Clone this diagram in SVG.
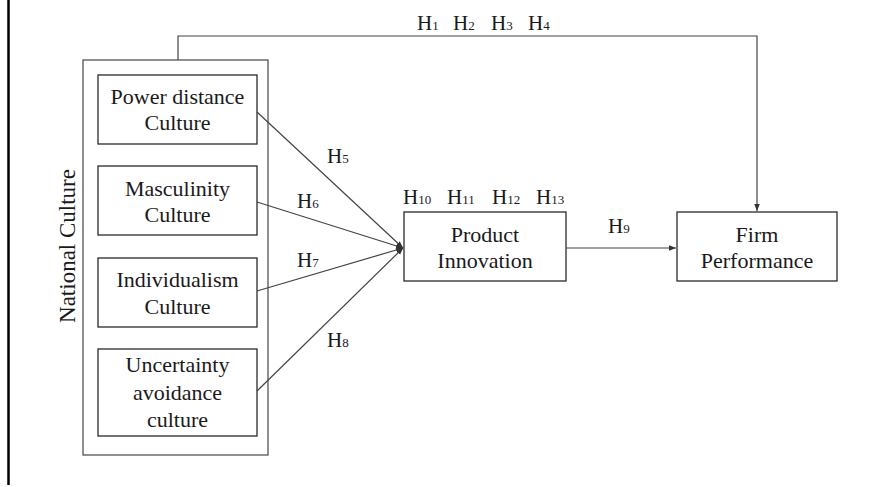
<svg xmlns="http://www.w3.org/2000/svg" width="880" height="487" viewBox="0 0 880 487">
<style>
text{font-family:"Liberation Serif","Times New Roman",serif;fill:#1a1a1a;}
.t{font-size:22px;text-anchor:middle;}
.nc{font-size:23px;text-anchor:middle;}
.h{font-size:21px;}
.s{font-size:13px;}
.box{fill:#fff;stroke:#2a2a2a;stroke-width:1.3;}
.outer{fill:none;stroke:#555;stroke-width:1.3;}
.con{fill:none;stroke:#444;stroke-width:1.2;}
</style>
<defs>
<marker id="arr" viewBox="0 0 10 10" refX="10" refY="5" markerWidth="7" markerHeight="7" markerUnits="userSpaceOnUse" orient="auto">
<path d="M0,1 L10,5 L0,9 Z" fill="#333"/>
</marker>
</defs>
<rect x="0" y="0" width="880" height="487" fill="#fff"/>
<line x1="8.5" y1="0" x2="8.5" y2="485" stroke="#000" stroke-width="2.5"/>

<g id="national-culture">
<rect class="outer" x="83" y="60" width="185" height="395"/>
<text class="nc" transform="translate(75,246) rotate(-90)">National Culture</text>
</g>
<g id="power-distance">
<rect class="box" x="98" y="75" width="159" height="69"/>
<text class="t" x="177.5" y="104">Power distance</text>
<text class="t" x="177.5" y="130">Culture</text>
</g>
<g id="masculinity">
<rect class="box" x="98" y="166" width="159" height="69"/>
<text class="t" x="177.5" y="196">Masculinity</text>
<text class="t" x="177.5" y="222">Culture</text>
</g>
<g id="individualism">
<rect class="box" x="98" y="258" width="159" height="69"/>
<text class="t" x="177.5" y="287">Individualism</text>
<text class="t" x="177.5" y="314">Culture</text>
</g>
<g id="uncertainty">
<rect class="box" x="98" y="349" width="159" height="87"/>
<text class="t" x="177.5" y="372">Uncertainty</text>
<text class="t" x="177.5" y="400">avoidance</text>
<text class="t" x="177.5" y="427">culture</text>
</g>
<g id="product-innovation">
<rect class="box" x="404" y="212" width="162" height="69"/>
<text class="t" x="485" y="242">Product</text>
<text class="t" x="485" y="268">Innovation</text>
</g>
<g id="firm-performance">
<rect class="box" x="677" y="212" width="160" height="69"/>
<text class="t" x="757" y="242">Firm</text>
<text class="t" x="757" y="268">Performance</text>
</g>

<g id="connectors">
<polyline class="con" points="178,60 178,36 757,36 757,211" marker-end="url(#arr)"/>
<line class="con" x1="257" y1="112" x2="403" y2="248" marker-end="url(#arr)"/>
<line class="con" x1="257" y1="202" x2="403" y2="248" marker-end="url(#arr)"/>
<line class="con" x1="257" y1="291" x2="403" y2="248" marker-end="url(#arr)"/>
<line class="con" x1="257" y1="391" x2="403" y2="248" marker-end="url(#arr)"/>
<line class="con" x1="566" y1="248" x2="676" y2="248" marker-end="url(#arr)"/>
</g>

<g id="labels">
<text class="h" x="417" y="30">H<tspan class="s">1</tspan></text>
<text class="h" x="453" y="30">H<tspan class="s">2</tspan></text>
<text class="h" x="491" y="30">H<tspan class="s">3</tspan></text>
<text class="h" x="528" y="30">H<tspan class="s">4</tspan></text>
<text class="h" x="327" y="163">H<tspan class="s">5</tspan></text>
<text class="h" x="297" y="208">H<tspan class="s">6</tspan></text>
<text class="h" x="297" y="267">H<tspan class="s">7</tspan></text>
<text class="h" x="327" y="347">H<tspan class="s">8</tspan></text>
<text class="h" x="608" y="233">H<tspan class="s">9</tspan></text>
<text class="h" x="403" y="204">H<tspan class="s">10</tspan></text>
<text class="h" x="447" y="204">H<tspan class="s">11</tspan></text>
<text class="h" x="492" y="204">H<tspan class="s">12</tspan></text>
<text class="h" x="536" y="204">H<tspan class="s">13</tspan></text>
</g>
</svg>
